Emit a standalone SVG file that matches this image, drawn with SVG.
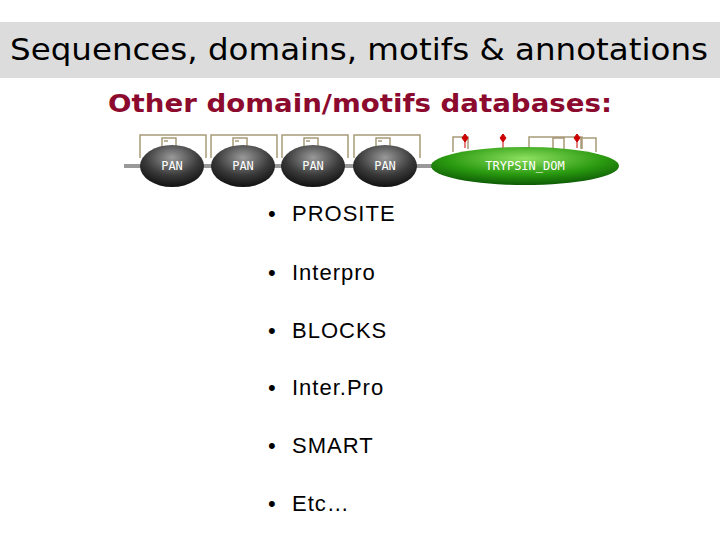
<svg xmlns="http://www.w3.org/2000/svg" width="720" height="540" viewBox="0 0 720 540">
<defs>
<style>
.b{font-family:"Liberation Sans",Arial,sans-serif;font-size:22px;fill:#000;letter-spacing:1px}
.dl{font-family:"DejaVu Sans Mono",monospace;font-size:12px;fill:#fff;text-anchor:middle}
.br{fill:none;stroke:#a89a78;stroke-width:1.5}
</style>
<radialGradient id="g1" cx="0.5" cy="0.3" r="0.7"><stop offset="0" stop-color="#9a9a9a"/><stop offset="0.6" stop-color="#3a3a3a"/><stop offset="1" stop-color="#111"/></radialGradient>
<radialGradient id="g2" cx="0.5" cy="0.3" r="0.7"><stop offset="0" stop-color="#8ee060"/><stop offset="0.6" stop-color="#2a9a10"/><stop offset="1" stop-color="#0d5a05"/></radialGradient>
</defs>
<rect width="720" height="540" fill="#fff"/>
<rect x="0" y="22" width="720" height="56" fill="#dcdcdc"/>
<text x="10" y="60" textLength="698" lengthAdjust="spacingAndGlyphs" font-family="'DejaVu Sans',sans-serif" font-size="31">Sequences, domains, motifs &amp; annotations</text>
<text x="108" y="112" textLength="504" lengthAdjust="spacingAndGlyphs" font-family="'DejaVu Sans',sans-serif" font-size="25" font-weight="bold" fill="#8b0a2e">Other domain/motifs databases:</text>
<g id="domains">
<line x1="124" y1="166" x2="618" y2="166" stroke="#999" stroke-width="4"/>
<path class="br" d="M140 158V135H206V158M162 149V138H176V149M164 141H168"/>
<path class="br" d="M211 158V135H277V158M233 149V138H247V149M235 141H239"/>
<path class="br" d="M282 158V135H348V158M304 149V138H318V149M306 141H310"/>
<path class="br" d="M354 158V135H420V158M376 149V138H390V149M378 141H382"/>
<path class="br" d="M453 152V137H468V149M529 152V137H582V149M553 149V138H564V149M581 149V138H596V152"/>
<g fill="#cc0000" stroke="#cc0000"><line x1="465" y1="137" x2="465" y2="148"/><path d="M465 134l3 4-3 4-3-4z"/><line x1="503" y1="137" x2="503" y2="148"/><path d="M503 134l3 4-3 4-3-4z"/><line x1="577" y1="137" x2="577" y2="148"/><path d="M577 134l3 4-3 4-3-4z"/></g>
<ellipse cx="172" cy="166" rx="32" ry="21" fill="url(#g1)"/><text class="dl" x="172" y="170">PAN</text>
<ellipse cx="243" cy="166" rx="32" ry="21" fill="url(#g1)"/><text class="dl" x="243" y="170">PAN</text>
<ellipse cx="313" cy="166" rx="32" ry="21" fill="url(#g1)"/><text class="dl" x="313" y="170">PAN</text>
<ellipse cx="385" cy="166" rx="32" ry="21" fill="url(#g1)"/><text class="dl" x="385" y="170">PAN</text>
<ellipse cx="525" cy="166" rx="94" ry="19" fill="url(#g2)"/><text class="dl" x="525" y="170">TRYPSIN_DOM</text>
</g>
<g id="list">
<text class="b" x="268" y="221">•</text><text class="b" x="292" y="221">PROSITE</text>
<text class="b" x="268" y="280">•</text><text class="b" x="292" y="280">Interpro</text>
<text class="b" x="268" y="338">•</text><text class="b" x="292" y="338">BLOCKS</text>
<text class="b" x="268" y="395">•</text><text class="b" x="292" y="395">Inter.Pro</text>
<text class="b" x="268" y="453">•</text><text class="b" x="292" y="453">SMART</text>
<text class="b" x="268" y="511">•</text><text class="b" x="292" y="511">Etc…</text>
</g>
</svg>
